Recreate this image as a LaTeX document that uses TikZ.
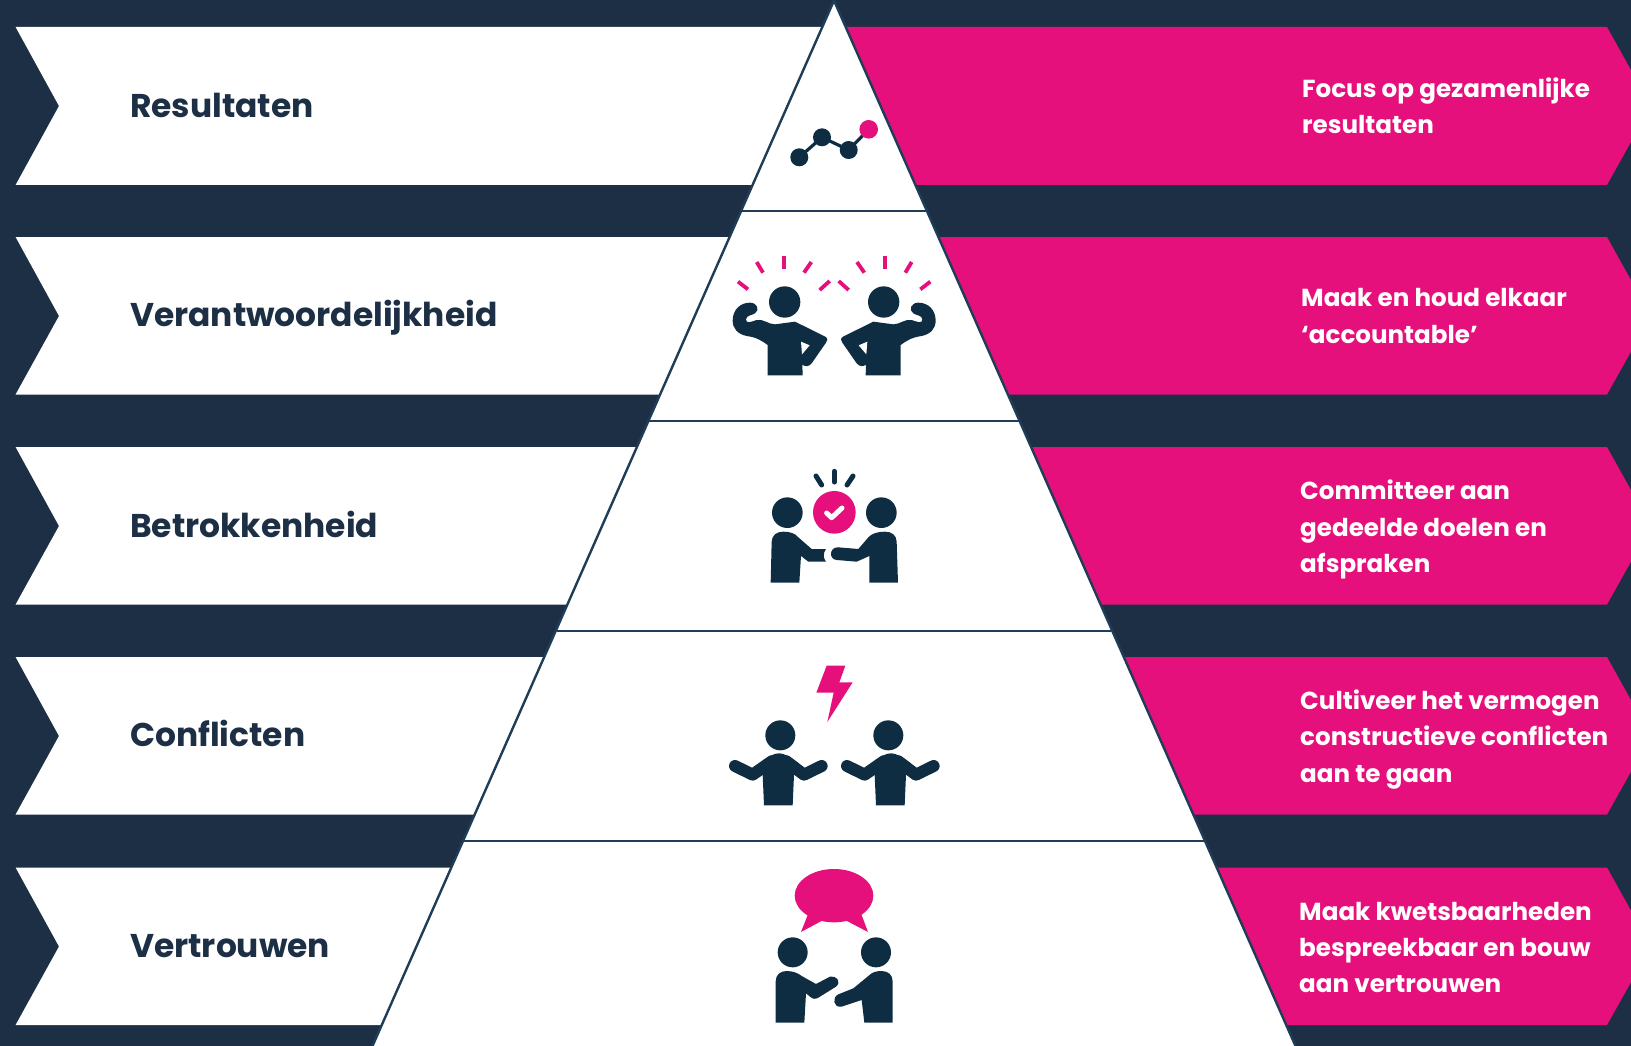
\documentclass[tikz,border=0pt]{standalone}
\usepackage{fontspec}
\setmainfont{Poppins}
\definecolor{bgnavy}{HTML}{1C2F45}
\definecolor{icondark}{HTML}{0E2D42}
\definecolor{hotpink}{HTML}{E5107C}
\definecolor{rulenavy}{HTML}{1F3D57}
\tikzset{
  whiteband/.style={fill=white,draw=none},
  pinkband/.style={fill=hotpink,draw=none},
  leftlabel/.style={anchor=base west,inner sep=0pt,text=bgnavy,font=\fontsize{32.9}{36}\selectfont\bfseries},
  rightlabel/.style={anchor=west,inner sep=0pt,text=white,align=left,font=\fontsize{24.6}{36.3}\selectfont\bfseries},
  darkfill/.style={fill=icondark,draw=none},
  pinkfill/.style={fill=hotpink,draw=none},
  rayp/.style={draw=hotpink,line width=3.8pt},
  rayd/.style={draw=icondark,line width=5pt,line cap=round},
  pyr/.style={draw=rulenavy,line width=2.4pt},
  divider/.style={draw=rulenavy,line width=2pt},
  armline/.style={draw=icondark,line width=12pt,line cap=round,line join=round},
}
\newcommand{\flexer}{%
  \fill[icondark] (254,216) circle[radius=47];
  \path[darkfill] (203,436) -- (203,345) .. controls (185,332) and (170,322) .. (140,318)
    .. controls (112,312) and (98,295) .. (98,272)
    .. controls (98,240) and (120,218) .. (150,218)
    .. controls (172,218) and (180,240) .. (165,250)
    .. controls (155,257) and (140,255) .. (138,268)
    .. controls (138,282) and (152,276) .. (170,270)
    .. controls (190,266) and (205,283) .. (225,283) -- (285,275) -- (376,320)
    .. controls (384,325) and (383,332) .. (378,338) -- (335,400)
    .. controls (326,411) and (315,410) .. (307,404) -- (308,436) -- cycle;
  \fill[white] (303,335) -- (329,346) -- (306,373) -- cycle;
  \draw[rayp] (114,155) -- (144,178);
  \draw[rayp] (170,96) -- (189,128);
  \draw[rayp] (251,78) -- (251,116);
  \draw[rayp] (334,96) -- (312,128);
  \draw[rayp] (389,153) -- (359,180);
}
\newcommand{\shrugger}{%
  \path[darkfill] (162,466) -- (158,375) -- (150,340) .. controls (175,320) and (190,310) .. (207,310)
    .. controls (224,310) and (240,320) .. (264,340) -- (252,375) -- (248,466) -- cycle;
  \draw[armline] (75,348) -- (128,374) -- (185,334);
  \draw[armline] (335,348) -- (282,374) -- (229,334);
}
\begin{document}
\begin{tikzpicture}[x=1pt,y=-1pt]
\useasboundingbox (0,0) rectangle (1631,1046);
\fill[bgnavy] (0,0) rectangle (1631,1046);
% bands
\foreach \ya/\ym/\yb in {27/106/185, 237/316/394.5, 447/526/604.5, 657/736/814.5, 867.5/946.5/1025}{
  \path[whiteband] (15.6,\ya) -- (59,\ym) -- (15.6,\yb) -- (834,\yb) -- (834,\ya) -- cycle;
  \path[pinkband] (834,\ya) -- (1607,\ya) -- (1651,\ym) -- (1607,\yb) -- (834,\yb) -- cycle;
}
% pyramid
\coordinate (apex) at (834,0.5);
\coordinate (bl) at (372.5,1046);
\coordinate (br) at (1295.5,1046);
\draw[pyr,fill=white] (bl) -- (apex) -- (br);
\foreach \y/\h in {211/92, 421/184.8, 630.5/277, 840.5/370}{
  \draw[divider] (834-\h,\y) -- (834+\h,\y);
}
% labels left
\node[leftlabel] (l1) at (130,117.5) {Resultaten};
\node[leftlabel] (l2) at (130,326.5) {Verantwoordelijkheid};
\node[leftlabel] (l3) at (130,537.5) {Betrokkenheid};
\node[leftlabel] (l4) at (130,746.5) {Conflicten};
\node[leftlabel] (l5) at (130,957.5) {Vertrouwen};
% labels right
\node[rightlabel] (r1) at (1302,106) {Focus op gezamenlijke\\resultaten};
\node[rightlabel] (r2) at (1301,316) {Maak en houd elkaar\\‘accountable’};
\node[rightlabel] (r3) at (1300,529.5) {Committeer aan\\gedeelde doelen en\\afspraken};
\node[rightlabel] (r4) at (1300,739.5) {Cultiveer het vermogen\\constructieve conflicten\\aan te gaan};
\node[rightlabel] (r5) at (1299,947.5) {Maak kwetsbaarheden\\bespreekbaar en bouw\\aan vertrouwen};
% icon 1
\draw[icondark,line width=3.2pt] (799.3,157.3) -- (822,137.3) -- (848.7,150) -- (868.7,129.3);
\fill[icondark] (799.3,157.3) circle[radius=9];
\fill[icondark] (822,137.3) circle[radius=9];
\fill[icondark] (848.7,150) circle[radius=9];
\fill[hotpink] (868.7,129.3) circle[radius=9.3];
% icon 2
\begin{scope}[shift={(700,230)},scale=1/3]
  \flexer
  \begin{scope}[shift={(805,0)},xscale=-1]
    \flexer
  \end{scope}
\end{scope}
% icon 3
\begin{scope}[shift={(740,450)},scale=1/3]
  \fill[icondark] (142,188) circle[radius=46];
  \fill[icondark] (424,188) circle[radius=46];
  \fill[hotpink] (283,187) circle[radius=64];
  \draw[white,line width=5pt,line cap=round,line join=round] (260,189) -- (275,203) -- (306,174);
  \draw[rayd] (228,78) -- (245,105);
  \draw[rayd] (283,64) -- (283,96);
  \draw[rayd] (339,78) -- (321,105);
  \path[darkfill] (92,398) -- (95,275) .. controls (96,255) and (110,245) .. (130,245)
    .. controls (150,245) and (165,250) .. (175,262) -- (215,297) -- (258,297)
    .. controls (248,310) and (250,325) .. (258,335) -- (205,335) -- (183,318) -- (178,398) -- cycle;
  \path[darkfill] (474,398) -- (470,275) .. controls (469,255) and (455,245) .. (435,245)
    .. controls (415,245) and (395,250) .. (385,262) -- (355,297) -- (295,292)
    .. controls (268,290) and (265,328) .. (290,330) -- (350,335) -- (388,318) -- (388,398) -- cycle;
\end{scope}
% icon 4
\begin{scope}[shift={(710,650)},scale=1/3]
  \path[pinkfill] (350,47) -- (406,47) -- (388,97) -- (428,97) -- (352,216) -- (371,128) -- (319,128) -- cycle;
  \fill[icondark] (211,256) circle[radius=45];
  \fill[icondark] (535,256) circle[radius=45];
  \shrugger
  \begin{scope}[shift={(336,0)}]
    \shrugger
  \end{scope}
\end{scope}
% icon 5
\begin{scope}[shift={(750,860)},scale=1/3]
  \fill[hotpink] (252,107) ellipse[x radius=118,y radius=80];
  \path[pinkfill] (175,160) -- (153,216) -- (220,180) -- cycle;
  \path[pinkfill] (285,180) -- (354,216) -- (333,160) -- cycle;
  \fill[icondark] (128,277) circle[radius=45];
  \fill[icondark] (378,277) circle[radius=45];
  \path[darkfill] (77,488) -- (77,365) .. controls (77,345) and (90,333) .. (110,333)
    .. controls (130,333) and (145,340) .. (155,348) -- (198,372) -- (240,350)
    .. controls (258,345) and (276,365) .. (258,380) -- (205,413)
    .. controls (195,418) and (190,418) .. (180,410) -- (168,400) -- (163,488) -- cycle;
  \path[darkfill] (428,488) -- (428,365) .. controls (428,345) and (415,333) .. (395,333)
    .. controls (375,333) and (365,338) .. (355,348) -- (310,385) -- (265,403)
    .. controls (245,412) and (250,445) .. (275,440) -- (335,420) -- (343,488) -- cycle;
\end{scope}
\end{tikzpicture}
\end{document}
